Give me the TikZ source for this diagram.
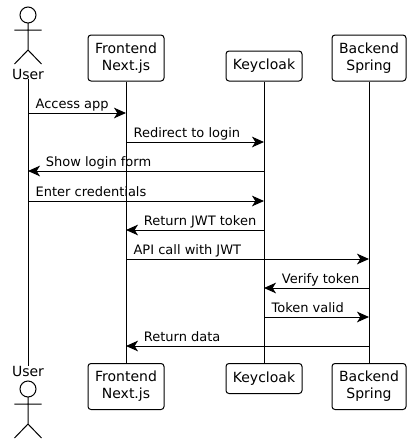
\documentclass[tikz,border=0pt]{standalone}
\usepackage{fontspec}
\setmainfont{DejaVu Sans}
\usetikzlibrary{arrows.meta}
\tikzset{
  party/.style={draw, line width=0.75pt, rounded corners=2.25pt, align=center, font=\fontsize{10.5}{12.6}\selectfont, inner sep=0pt},
  actorname/.style={font=\fontsize{10.5}{12.6}\selectfont, inner sep=0pt},
  msg/.style={line width=0.75pt, -{Stealth[length=9pt,width=8pt,inset=2.5pt]}},
  msgtext/.style={font=\fontsize{9.75}{11.7}\selectfont, anchor=base west, inner sep=0pt},
  actor/.pic={
    \draw[line width=0.75pt] (0,-8) circle[radius=6pt] (0,0) -- (0,27) (-13.5,7) -- (13.5,7)
      (-13.5,41) -- (0,27) -- (13.5,41);
  }
}
\begin{document}
\begin{tikzpicture}[x=0.75pt,y=-0.75pt]
    \useasboundingbox (0,0) rectangle (411,444);
    % top row
    \node[actorname] (usertop) at (28,74) {User};
    \node[party, minimum width=57pt, minimum height=34.5pt] (fronttop) at (126,58) {Frontend\\Next.js};
    \node[party, minimum width=57pt, minimum height=22.5pt] (keytop) at (264,66) {Keycloak};
    \node[party, minimum width=55.5pt, minimum height=34.5pt] (backtop) at (369,58) {Backend\\Spring};
    % bottom row
    \node[actorname] (userbot) at (28,371) {User};
    \node[party, minimum width=57pt, minimum height=34.5pt] (frontbot) at (126,386.5) {Frontend\\Next.js};
    \node[party, minimum width=57pt, minimum height=22.5pt] (keybot) at (264,378.5) {Keycloak};
    \node[party, minimum width=55.5pt, minimum height=34.5pt] (backbot) at (369,386.5) {Backend\\Spring};
    \pic at (28,23) {actor};
    \pic at (28,397) {actor};
    % lifelines
    \draw[line width=0.75pt] (usertop) -- (userbot);
    \draw[line width=0.75pt] (fronttop) -- (frontbot);
    \draw[line width=0.75pt] (keytop) -- (keybot);
    \draw[line width=0.75pt] (backtop) -- (backbot);
    \foreach \y [count=\i] in {113,142,171,201,230,259,288,317,346} {
      \coordinate (u\i) at (28,\y);
      \coordinate (f\i) at (126,\y);
      \coordinate (k\i) at (264,\y);
      \coordinate (b\i) at (369,\y);
    }
    % messages
    \draw[msg] (u1) -- (f1);
    \node[msgtext] (m1) at ([xshift=5.5pt,yshift=3.2pt]u1) {Access app};
    \draw[msg] (f2) -- (k2);
    \node[msgtext] (m2) at ([xshift=5.5pt,yshift=3.2pt]f2) {Redirect to login};
    \draw[msg] (k3) -- (u3);
    \node[msgtext] (m3) at ([xshift=13.2pt,yshift=3.2pt]u3) {Show login form};
    \draw[msg] (u4) -- (k4);
    \node[msgtext] (m4) at ([xshift=5.5pt,yshift=3.2pt]u4) {Enter credentials};
    \draw[msg] (k5) -- (f5);
    \node[msgtext] (m5) at ([xshift=13.2pt,yshift=3.2pt]f5) {Return JWT token};
    \draw[msg] (f6) -- (b6);
    \node[msgtext] (m6) at ([xshift=5.5pt,yshift=3.2pt]f6) {API call with JWT};
    \draw[msg] (b7) -- (k7);
    \node[msgtext] (m7) at ([xshift=13.2pt,yshift=3.2pt]k7) {Verify token};
    \draw[msg] (k8) -- (b8);
    \node[msgtext] (m8) at ([xshift=5.5pt,yshift=3.2pt]k8) {Token valid};
    \draw[msg] (b9) -- (f9);
    \node[msgtext] (m9) at ([xshift=13.2pt,yshift=3.2pt]f9) {Return data};
\end{tikzpicture}
\end{document}
